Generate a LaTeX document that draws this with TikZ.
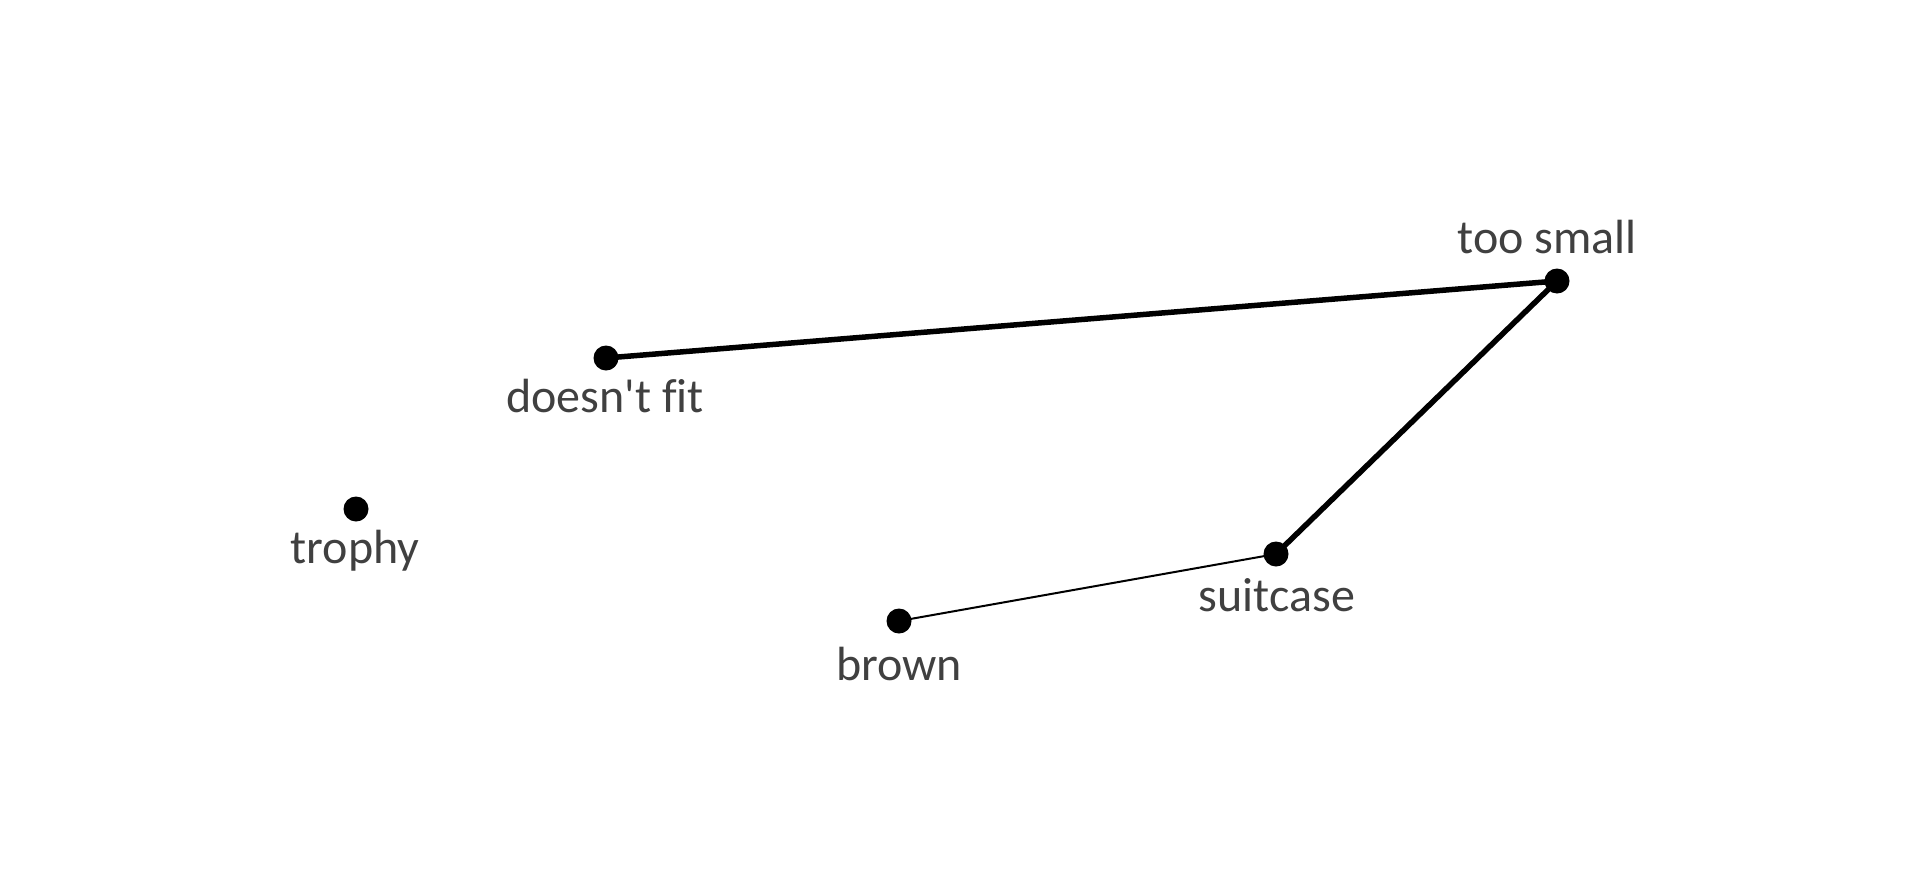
\documentclass[tikz,border=0pt]{standalone}
\usepackage{fontspec}
\newfontfamily\lblfont{Carlito}[Ligatures=NoCommon]
\definecolor{labelgray}{HTML}{404040}
\tikzset{
  dot/.style={circle,fill=black,inner sep=0pt,minimum size=25pt},
  lbl/.style={anchor=base,text=labelgray,font=\lblfont\fontsize{48}{56}\selectfont,inner sep=0pt},
  thickedge/.style={line width=5.5pt,black},
  thinedge/.style={line width=2pt,black}
}
\begin{document}
\begin{tikzpicture}[x=1pt,y=-1pt]
\useasboundingbox (0,0) rectangle (1920,873);
\node[dot] (fit) at (606,358) {};
\node[dot] (small) at (1557,281) {};
\node[dot] (trophy) at (356,509) {};
\node[dot] (suitcase) at (1276,554) {};
\node[dot] (brown) at (899,621) {};
\node[lbl] (lfit) at (605,412) {doesn't fit};
\node[lbl] (lsmall) at (1547,253) {too small};
\node[lbl] (ltrophy) at (355,563) {trophy};
\node[lbl] (lsuitcase) at (1277,611) {suitcase};
\node[lbl] (lbrown) at (899,680) {brown};
\draw[thickedge] (fit.center) -- (small.center);
\draw[thickedge] (small.center) -- (suitcase.center);
\draw[thinedge] (brown.center) -- (suitcase.center);
\end{tikzpicture}
\end{document}
